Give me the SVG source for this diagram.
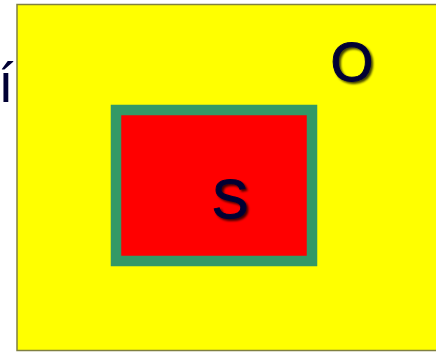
<svg xmlns="http://www.w3.org/2000/svg" width="436" height="352" viewBox="0 0 436 352">
<defs>
<style>
.lbl{font-family:"Liberation Sans",Arial,sans-serif;fill:#000033;text-anchor:middle;font-size:55px}
.sh{stroke:#000033;stroke-width:1;filter:url(#sh)}
</style>
<filter id="sh" x="-20%" y="-20%" width="150%" height="150%">
<feDropShadow dx="2" dy="2" stdDeviation="1.2" flood-color="#000000" flood-opacity="0.75"/>
</filter>
</defs>
<rect width="436" height="352" fill="#ffffff"/>
<g id="outer">
<rect x="17" y="4.5" width="425" height="346" fill="#ffff00" stroke="#808040" stroke-width="1.5"/>
<text class="lbl sh" x="352" y="81">O</text>
</g>
<g id="inner">
<rect x="116" y="110" width="196" height="151" fill="#ff0000" stroke="#339966" stroke-width="10.5"/>
<text class="lbl sh" x="230" y="218">S</text>
</g>
<text class="lbl" x="6" y="102">í</text>
</svg>
